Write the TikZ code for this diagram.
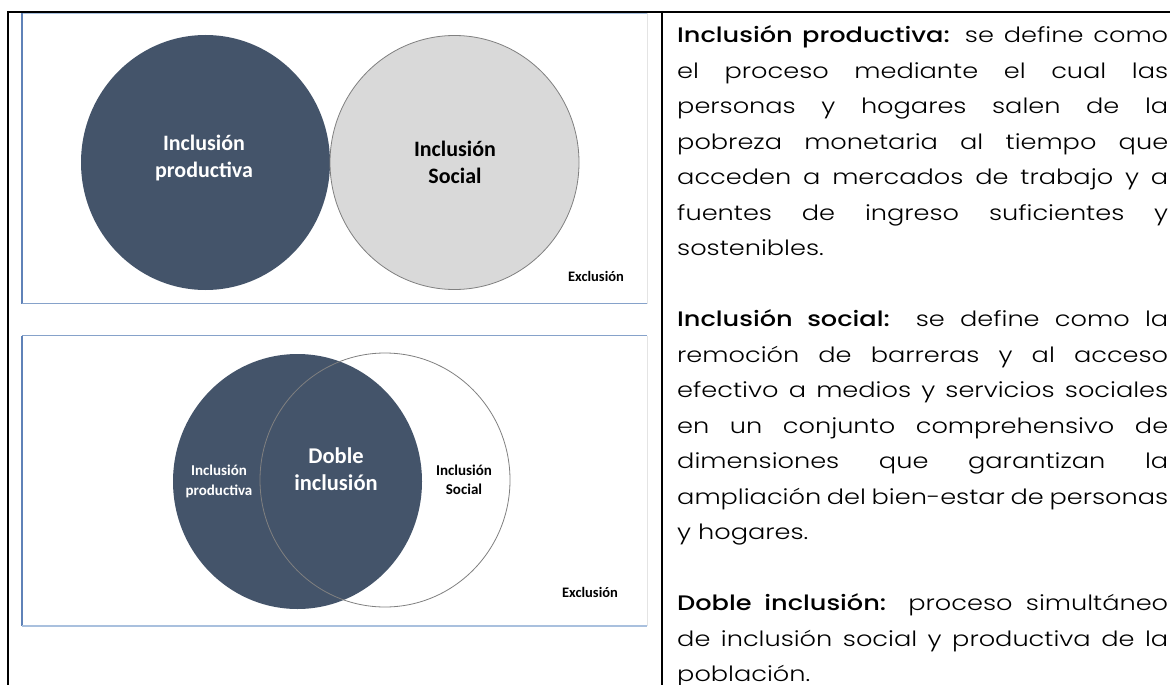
\documentclass[tikz,border=0pt]{standalone}
\usepackage{fontspec}
\setmainfont{Poppins}[UprightFont=* Light, BoldFont=* Medium, FakeStretch=1.22]
\newfontfamily\calib{Carlito}
\definecolor{slate}{HTML}{44546A}
\definecolor{lgrey}{HTML}{D9D9D9}
\definecolor{cgrey}{HTML}{808080}
\definecolor{frameblue}{HTML}{5F82B8}
\definecolor{framebot}{HTML}{86A2CA}
\definecolor{framelight}{HTML}{A9C0DE}
\definecolor{frameright}{HTML}{E4E4E4}
\tikzset{
  tline/.style={line width=2.4pt, black},
  lbl/.style={font=\calib\bfseries\fontsize{22pt}{26.5pt}\selectfont, align=center, inner sep=0pt},
  slbl/.style={font=\calib\bfseries\fontsize{15pt}{19.5pt}\selectfont, align=center, inner sep=0pt},
  xlbl/.style={font=\calib\bfseries\fontsize{14.5pt}{17pt}\selectfont, inner sep=0pt, anchor=base},
}
\begin{document}
\begin{tikzpicture}[x=1pt,y=-1pt]
\useasboundingbox (0,0) rectangle (1170,685);
\fill[white] (0,0) rectangle (1170,685);

% frame 1
\draw[framelight, line width=1pt] (22,13.5) -- (647,13.5);
\draw[frameright, line width=1pt] (647,13) -- (647,303.5);
\draw[frameblue, line width=1.3pt] (22,13) -- (22,303.5);
\draw[framebot, line width=1.5pt] (22,303.5) -- (647,303.5);
% frame 2
\draw[framebot, line width=1.3pt] (22,335.5) -- (647,335.5);
\draw[frameright, line width=1pt] (647,335.5) -- (647,626);
\draw[frameblue, line width=1.3pt] (22,335.5) -- (22,626);
\draw[framelight, line width=1.5pt] (22,626) -- (647,626);

% diagram 1
\fill[slate] (205.5,162.5) ellipse [x radius=124.5, y radius=127.5];
\filldraw[fill=lgrey, draw=cgrey, line width=0.8pt] (454.5,162.5) ellipse [x radius=124.5, y radius=127];
\node[lbl, text=white] (prod1) at (204,157.8) {Inclusión\\productiva};
\node[lbl, text=black] (soc1) at (455,162.5) {Inclusión\\Social};
\node[xlbl] (exc1) at (596,281.7) {Exclusión};

% diagram 2
\fill[slate] (297.5,481.5) ellipse [x radius=124.5, y radius=127.5];
\draw[cgrey, line width=0.8pt] (385,480) ellipse [x radius=125, y radius=127];
\node[slbl, text=white] (prod2) at (219,481.2) {Inclusión\\productiva};
\node[lbl, text=white, font=\calib\bfseries\fontsize{22.5pt}{27pt}\selectfont] (doble) at (336,469.6) {Doble\\inclusión};
\node[slbl, text=black] (soc2) at (464,479.8) {Inclusión\\Social};
\node[xlbl] (exc2) at (590,597) {Exclusión};

% definitions
\node[anchor=base west, inner sep=0pt] (deftext) at (677,42.7) {\vtop{\hsize=491pt
  \fontsize{21pt}{35.5pt}\selectfont
  \parindent=0pt \parskip=35.5pt \tolerance=9999 \hyphenpenalty=10000 \exhyphenpenalty=10000
  \textbf{Inclusión productiva:} se define como\linebreak el proceso mediante el cual las\linebreak personas y hogares salen de la\linebreak pobreza monetaria al tiempo que\linebreak acceden a mercados de trabajo y a\linebreak fuentes de ingreso suficientes y\linebreak sostenibles.\par
  \textbf{Inclusión social:} se define como la\linebreak remoción de barreras y al acceso\linebreak efectivo a medios y servicios sociales\linebreak en un conjunto comprehensivo de\linebreak dimensiones que garantizan la\linebreak ampliación del bien-estar de personas\linebreak y hogares.\par
  \textbf{Doble inclusión:} proceso simultáneo\linebreak de inclusión social y productiva de la\linebreak población.\par}};

% table rules
\draw[tline, line width=2pt] (7,12) -- (1170,12);
\draw[tline] (8,11) -- (8,685);
\draw[tline] (662,11) -- (662,685);
\end{tikzpicture}
\end{document}
